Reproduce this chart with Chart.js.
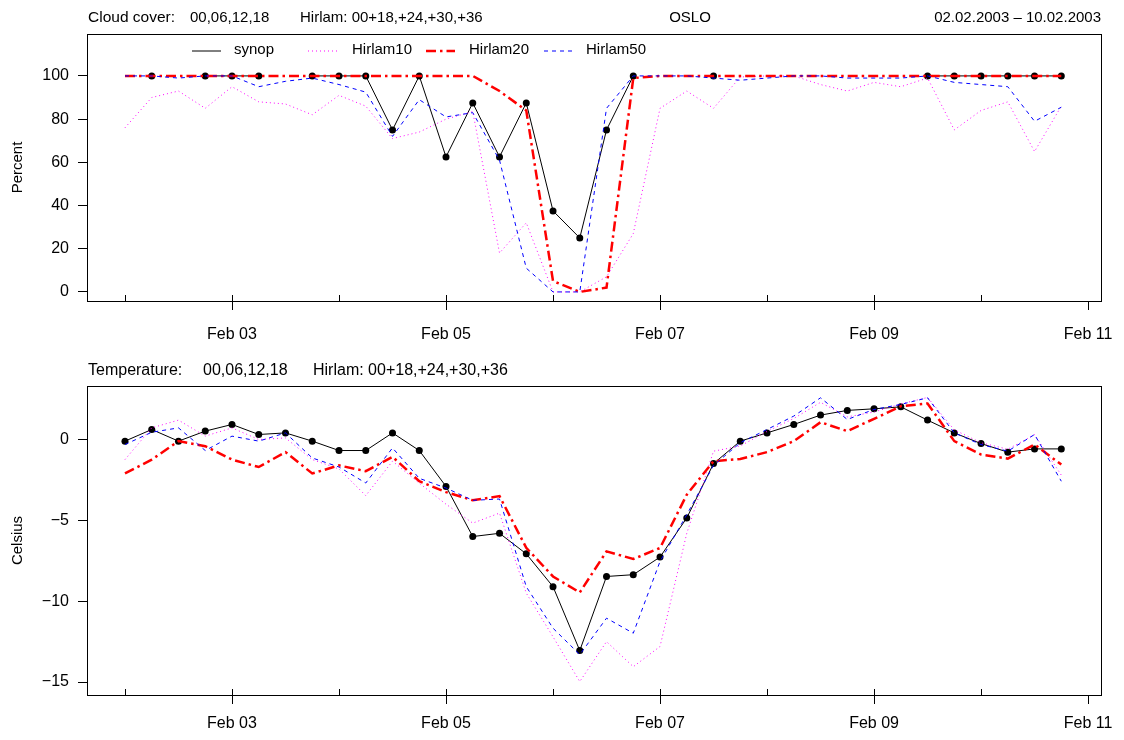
<!DOCTYPE html>
<html>
<head>
<meta charset="utf-8">
<script src="https://cdn.jsdelivr.net/npm/chart.js@4.4.1/dist/chart.umd.min.js"></script>
<style>
  html, body { margin: 0; padding: 0; background: #fff; }
  #wrap { position: relative; width: 1124px; height: 740px; }
  canvas { position: absolute; left: 0; }
  #cloud { top: 0; }
  #temp { top: 360px; }
</style>
</head>
<body>
<div id="wrap">
  <canvas id="cloud" width="1124" height="360"></canvas>
  <canvas id="temp" width="1124" height="380"></canvas>
</div>
<script>
// six-hourly steps, in days after 02.02.2003 00 UTC
const stepDays = [0, 0.25, 0.5, 0.75, 1, 1.25, 1.5, 1.75, 2, 2.25, 2.5, 2.75,
  3, 3.25, 3.5, 3.75, 4, 4.25, 4.5, 4.75, 5, 5.25, 5.5, 5.75,
  6, 6.25, 6.5, 6.75, 7, 7.25, 7.5, 7.75, 8, 8.25, 8.5, 8.75];
const dayTicks = [0, 1, 2, 3, 4, 5, 6, 7, 8, 9];
const dayLabels = ['', 'Feb 03', '', 'Feb 05', '', 'Feb 07', '', 'Feb 09', '', 'Feb 11'];
const cloudTicks = [0, 20, 40, 60, 80, 100];
const tempTicks = [-15, -10, -5, 0];
const seriesNames = ['synop', 'Hirlam10', 'Hirlam20', 'Hirlam50'];

// cloud cover, percent
const cloudSynop = [null, 100, null, 100, 100, 100, null, 100, 100, 100, 75, 100,
  62.5, 87.5, 62.5, 87.5, 37.5, 25, 75, 100, null, null, 100, null,
  null, null, null, null, null, null, 100, 100, 100, 100, 100, 100];
const cloudH10 = [76, 90, 93, 85, 95, 88, 87, 82, 91, 86, 71, 74,
  80, 83.5, 18, 32, 0, 0, 7, 27, 85, 93, 85, 99.5,
  100, 100, 96, 93, 97, 95, 99, 75, 84, 88, 65, 86];
const cloudH20 = [100, 100, 100, 100, 100, 100, 100, 100, 100, 100, 100, 100,
  100, 100, 93, 84, 5, 0, 2, 99, 100, 100, 100, 100,
  100, 100, 100, 100, 100, 100, 100, 100, 100, 100, 100, 100];
const cloudH50 = [100, 100, 99, 100, 100, 95, 97.5, 99, 96, 92.5, 72, 89,
  81, 83, 61, 11, 0, 0, 85, 100, 100, 100, 99, 98,
  99, 100, 100, 99, 99, 99, 100, 97, 96, 95, 79, 85.5];

// temperature, celsius
const tempSynop = [-0.1, 0.62, -0.1, 0.52, 0.93, 0.31, 0.41, -0.1, -0.68, -0.68, 0.41, -0.68,
  -2.9, -6.0, -5.8, -7.07, -9.1, -13.05, -8.47, -8.36, -7.27, -4.85, -1.49, -0.1,
  0.41, 0.93, 1.51, 1.8, 1.9, 2.02, 1.2, 0.41, -0.25, -0.78, -0.58, -0.58];
const tempH10 = [-1.24, 0.72, 1.2, 0.21, 0.72, 0, 0.1, -1.24, -1.82, -3.47, -1.34, -2.7,
  -4.0, -5.17, -4.55, -9.5, -12.2, -14.97, -12.5, -14.05, -12.8, -5.8, -0.72, -0.4,
  0.5, 1.3, 2.3, 1.4, 1.7, 2.2, 2.6, 0.6, -0.2, -0.6, 0.3, -2.2];
const tempH20 = [-2.1, -1.24, -0.1, -0.41, -1.24, -1.7, -0.78, -2.1, -1.6, -1.96, -1.07, -2.58,
  -3.25, -3.76, -3.5, -6.7, -8.47, -9.46, -6.92, -7.39, -6.71, -3.41, -1.34, -1.2,
  -0.78, -0.1, 1.07, 0.52, 1.28, 2.06, 2.23, -0.1, -0.93, -1.18, -0.31, -1.55];
const tempH50 = [-0.31, 0.45, 0.72, -0.68, 0.21, -0.1, 0.41, -1.14, -1.7, -2.69, -0.52, -2.4,
  -3.0, -3.76, -3.68, -9.1, -11.67, -13.3, -11.05, -11.98, -7.54, -4.65, -1.6, -0.2,
  0.62, 1.45, 2.58, 1.24, 1.86, 2.17, 2.58, 0.41, -0.31, -0.72, 0.31, -2.58];

const family = "'Liberation Sans', Arial, Helvetica, sans-serif";

function pairs(vals) {
  return stepDays.map((d, i) => ({ x: d, y: vals[i] }));
}

// synop drawn below the model lines
function datasets(synop, h10, h20, h50) {
  return [
    { label: seriesNames[0], data: pairs(synop), order: 4, borderColor: '#000', borderWidth: 1,
      pointRadius: 3.5, pointBackgroundColor: '#000', pointBorderColor: '#000', pointBorderWidth: 0 },
    { label: seriesNames[1], data: pairs(h10), order: 3, borderColor: '#ff00ff', borderWidth: 1,
      borderDash: [1, 3], pointRadius: 0 },
    { label: seriesNames[2], data: pairs(h20), order: 2, borderColor: '#ff0000', borderWidth: 2.5,
      borderDash: [10, 4, 2.5, 4], pointRadius: 0 },
    { label: seriesNames[3], data: pairs(h50), order: 1, borderColor: '#0000ff', borderWidth: 1,
      borderDash: [4, 4], pointRadius: 0 }
  ];
}

function framePlugin(texts, legendPos) {
  return {
    id: 'frame',
    afterDraw(chart) {
      const { ctx, chartArea: a } = chart;
      const x = chart.scales.x;
      ctx.save();
      ctx.strokeStyle = '#000';
      ctx.lineWidth = 1;
      ctx.setLineDash([]);
      ctx.strokeRect(a.left + 0.5, a.top + 0.5, a.right - a.left, a.bottom - a.top);
      // day ticks: inward over the data range, outward where labelled
      x.ticks.forEach(t => {
        const px = Math.round(x.getPixelForValue(t.value)) + 0.5;
        const lab = dayLabels[dayTicks.indexOf(t.value)];
        ctx.beginPath();
        ctx.moveTo(px, t.value <= 8 ? a.bottom - 6 : a.bottom);
        ctx.lineTo(px, lab ? a.bottom + 9 : a.bottom);
        ctx.stroke();
      });
      ctx.fillStyle = '#000';
      ctx.textBaseline = 'middle';
      texts.forEach(t => {
        ctx.font = (t.size || 16) + 'px ' + family;
        ctx.textAlign = t.align || 'left';
        ctx.fillText(t.text, t.x, t.y);
      });
      if (legendPos) {
        ctx.font = '15px ' + family;
        chart.data.datasets.forEach((ds, i) => {
          const p = legendPos[i];
          ctx.strokeStyle = ds.borderColor;
          ctx.lineWidth = ds.borderWidth;
          ctx.setLineDash(ds.borderDash || []);
          ctx.beginPath();
          ctx.moveTo(p.x, p.y);
          ctx.lineTo(p.x + 29, p.y);
          ctx.stroke();
          ctx.textAlign = 'left';
          ctx.fillText(ds.label, p.tx, p.y - 1);
        });
      }
      ctx.restore();
    }
  };
}

function makeChart(id, sets, yMin, yMax, yTicks, yTitle, area, height, labelPad, texts, legendPos) {
  return new Chart(document.getElementById(id), {
    type: 'line',
    data: { datasets: sets },
    options: {
      responsive: false,
      animation: false,
      events: [],
      spanGaps: false,
      layout: { padding: { top: area.top, right: 1124 - area.right, left: 0, bottom: 0 } },
      plugins: { legend: { display: false }, tooltip: { enabled: false } },
      elements: { line: { tension: 0, fill: false } },
      scales: {
        x: {
          type: 'linear', min: -0.355, max: 9.121,
          afterBuildTicks: s => { s.ticks = dayTicks.map(v => ({ value: v })); },
          afterFit: s => { s.height = height - area.bottom; s.paddingLeft = 0; s.paddingRight = 0; },
          grid: { display: false, drawTicks: false },
          border: { display: false },
          ticks: {
            autoSkip: false, maxRotation: 0, color: '#000', padding: labelPad,
            font: { family: family, size: 16 },
            callback: v => dayLabels[dayTicks.indexOf(v)]
          }
        },
        y: {
          min: yMin, max: yMax,
          afterBuildTicks: s => { s.ticks = yTicks.map(v => ({ value: v })); },
          afterFit: s => { s.width = area.left; s.paddingTop = 0; s.paddingBottom = 0; },
          grid: { drawOnChartArea: false, drawTicks: true, tickLength: 9, color: '#000' },
          border: { display: false },
          ticks: {
            color: '#000', padding: 9, font: { family: family, size: 16 },
            callback: v => v < 0 ? '\u2212' + Math.abs(v) : String(v)
          },
          title: {
            display: true, text: yTitle, color: '#000',
            font: { family: family, size: 15 }, padding: { top: 9, bottom: 0 }
          }
        }
      }
    },
    plugins: [framePlugin(texts, legendPos)]
  });
}

makeChart('cloud', datasets(cloudSynop, cloudH10, cloudH20, cloudH50),
  -4.2, 119.4, cloudTicks, 'Percent',
  { left: 87, right: 1101, top: 34, bottom: 301 }, 360, 24,
  [
    { text: 'Cloud cover:', x: 88, y: 18, size: 15.5 },
    { text: '00,06,12,18', x: 190, y: 18, size: 15 },
    { text: 'Hirlam: 00+18,+24,+30,+36', x: 300, y: 18, size: 15 },
    { text: 'OSLO', x: 690, y: 18, align: 'center', size: 15 },
    { text: '02.02.2003 \u2013 10.02.2003', x: 1101, y: 18, align: 'right', size: 15 }
  ],
  [
    { x: 192, tx: 234, y: 51 },
    { x: 308, tx: 352, y: 51 },
    { x: 426, tx: 469, y: 51 },
    { x: 544, tx: 586, y: 51 }
  ]);

makeChart('temp', datasets(tempSynop, tempH10, tempH20, tempH50),
  -15.8, 3.31, tempTicks, 'Celsius',
  { left: 87, right: 1101, top: 26, bottom: 335 }, 380, 19,
  [
    { text: 'Temperature:', x: 88, y: 11 },
    { text: '00,06,12,18', x: 203, y: 11 },
    { text: 'Hirlam: 00+18,+24,+30,+36', x: 313, y: 11 }
  ],
  null);
</script>
</body>
</html>
